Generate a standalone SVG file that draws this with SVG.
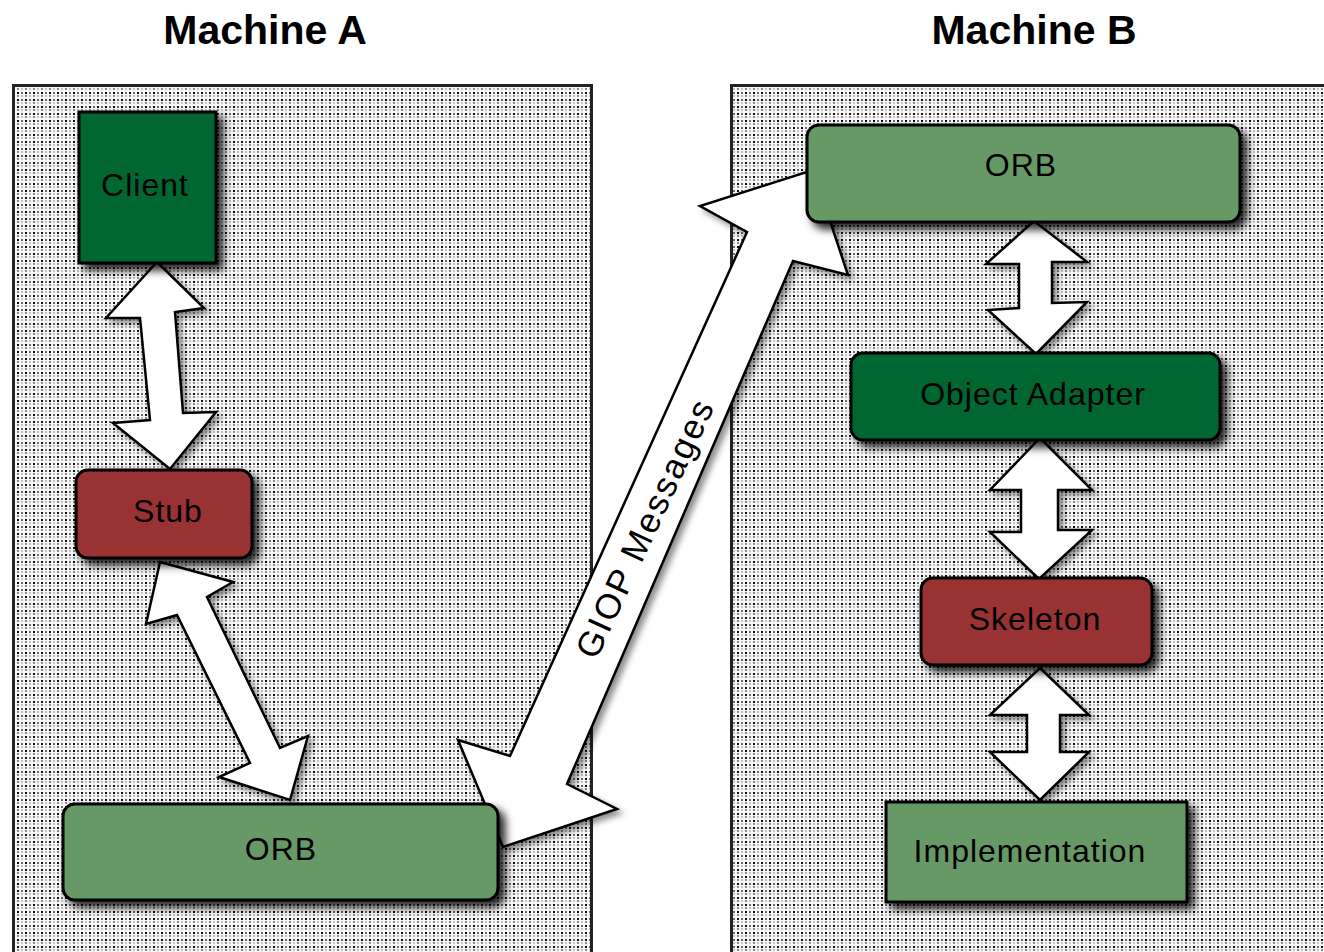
<svg xmlns="http://www.w3.org/2000/svg" width="1324" height="952" viewBox="0 0 1324 952">
  <defs>
    <!-- stippled machine background -->
    <pattern id="stipple" width="8" height="7" patternUnits="userSpaceOnUse">
      <rect width="8" height="7" fill="#f7f7f7"/>
      <rect x="1" y="1" width="2" height="2" fill="#0a0a0a"/>
      <rect x="5" y="1" width="2" height="2" fill="#6e6e6e"/>
      <rect x="1" y="4" width="2" height="2" fill="#8c8c8c"/>
      <rect x="5" y="4" width="2" height="2" fill="#c4c4c4"/>
    </pattern>
    <filter id="shadow" x="-10%" y="-10%" width="130%" height="140%">
      <feDropShadow dx="6" dy="6" stdDeviation="4" flood-color="#000" flood-opacity="0.85"/>
    </filter>
    <filter id="arrowShadow" x="-10%" y="-10%" width="130%" height="130%">
      <feDropShadow dx="4" dy="4" stdDeviation="3" flood-color="#000" flood-opacity="0.45"/>
    </filter>
  </defs>
  <style>
    .panel { fill: url(#stipple); stroke: #222; stroke-width: 3; }
    .title { font-family: "Liberation Sans", Arial, sans-serif; font-weight: bold; font-size: 41px; fill: #000; text-anchor: middle; }
    .node { stroke: #000; stroke-width: 3; filter: url(#shadow); }
    .dark { fill: #006633; }
    .red { fill: #993333; }
    .light { fill: #669966; }
    .label { font-family: "Liberation Sans", Arial, sans-serif; font-size: 32px; letter-spacing: 1px; fill: #000; text-anchor: middle; }
    .arrow { fill: #fff; stroke: #000; stroke-width: 2.5; stroke-linejoin: miter; filter: url(#arrowShadow); }
    .giop { font-family: "Liberation Sans", Arial, sans-serif; font-size: 35px; letter-spacing: 2px; fill: #000; text-anchor: middle; }
  </style>

  <rect width="1324" height="952" fill="#fff"/>

  <!-- machine areas -->
  <g id="machine-a">
    <rect class="panel" x="13.5" y="85.5" width="578" height="880"/>
    <text class="title" x="265" y="44">Machine A</text>
  </g>
  <g id="machine-b">
    <rect class="panel" x="731.5" y="85.5" width="620" height="880"/>
    <text class="title" x="1034" y="44">Machine B</text>
  </g>

  <!-- block arrows between components -->
  <g id="connectors">
    <polygon class="arrow" points="157,262 204,308 175,312 183,413 216,412 170,469 113,423 150,420 140,318 106,318"/>
    <polygon class="arrow" points="160,562 233,582 207,597 280,748 308,736 290,800 219,777 250,763 177,615 146,624"/>
    <polygon class="arrow" points="813,170 848,275 793,261 567,784 617,809 503,847 458,740 510,756 747,232 700,206"/>
    <polygon class="arrow" points="1034,221 1087,262 1052,262 1052,303 1087,302 1036,354 988,310 1019,308 1019,264 986,264"/>
    <polygon class="arrow" points="1040,438 1092,490 1058,490 1058,530 1092,530 1039,579 990,532 1021,532 1021,490 990,490"/>
    <polygon class="arrow" points="1040,668 1089,715 1060,715 1060,752 1089,752 1040,800 990,752 1027,752 1027,715 990,715"/>
    <text class="giop" transform="translate(645,528) rotate(-65)" y="12">GIOP Messages</text>
  </g>

  <!-- Machine A components -->
  <g id="client">
    <rect class="node dark" x="79" y="112" width="137" height="151"/>
    <text class="label" x="145" y="196">Client</text>
  </g>
  <g id="stub">
    <rect class="node red" x="76" y="470" width="176" height="88" rx="12"/>
    <text class="label" x="168" y="522">Stub</text>
  </g>
  <g id="orb-a">
    <rect class="node light" x="63" y="804" width="435" height="96" rx="12"/>
    <text class="label" x="281" y="860">ORB</text>
  </g>

  <!-- Machine B components -->
  <g id="orb-b">
    <rect class="node light" x="807" y="125" width="433" height="97" rx="12"/>
    <text class="label" x="1021" y="176">ORB</text>
  </g>
  <g id="object-adapter">
    <rect class="node dark" x="851" y="353" width="369" height="87" rx="12"/>
    <text class="label" x="1033" y="405">Object Adapter</text>
  </g>
  <g id="skeleton">
    <rect class="node red" x="921" y="578" width="231" height="87" rx="12"/>
    <text class="label" x="1035" y="630">Skeleton</text>
  </g>
  <g id="implementation">
    <rect class="node light" x="886" y="802" width="301" height="100"/>
    <text class="label" x="1030" y="862">Implementation</text>
  </g>
</svg>
